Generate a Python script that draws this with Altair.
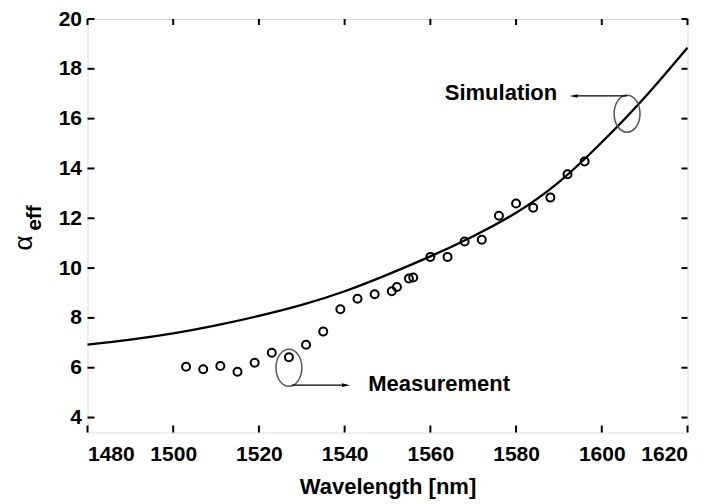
import altair as alt
import pandas as pd

# Simulation curve
sim_wavelength = [1480, 1490, 1500, 1510, 1520, 1530, 1540, 1550, 1560, 1570, 1580, 1590, 1600, 1610, 1620]
sim_alpha = [6.93, 7.13, 7.38, 7.70, 8.08, 8.52, 9.07, 9.74, 10.47, 11.28, 12.22, 13.45, 15.05, 16.85, 18.85]

# Measurement points
meas_wavelength = [1503, 1507, 1511, 1515, 1519, 1523, 1527, 1531, 1535, 1539, 1543, 1547, 1551, 1552.2,
                   1555, 1556, 1560, 1564, 1568, 1572, 1576, 1580, 1584, 1588, 1592, 1596]
meas_alpha = [6.04, 5.94, 6.07, 5.84, 6.2, 6.6, 6.42, 6.92, 7.45, 8.35, 8.77, 8.95, 9.07, 9.24,
              9.58, 9.62, 10.45, 10.45, 11.07, 11.14, 12.1, 12.59, 12.42, 12.83, 13.77, 14.28]

x_ticks = [1480, 1500, 1520, 1540, 1560, 1580, 1600, 1620]
y_ticks = [4, 6, 8, 10, 12, 14, 16, 18, 20]

# Annotations
ellipse_x = [1527.0, 1605.9]
ellipse_y = [6.0, 16.2]
arrow_x = [1527.7, 1605.9]
arrow_x2 = [1540.3, 1593.4]
arrow_y = [5.30, 16.91]
label_text = ["Measurement", "Simulation"]
label_x = [1545.5, 1589.6]
label_y = [5.34, 17.02]

FONT = "Liberation Sans"
W, H = 600, 413.5
TOP = 11

sim_df = pd.DataFrame({"wl": sim_wavelength, "a": sim_alpha})
meas_df = pd.DataFrame({"wl": meas_wavelength, "a": meas_alpha})
xt_df = pd.DataFrame({"v": x_ticks})
yt_df = pd.DataFrame({"v": y_ticks})

xs = alt.Scale(domain=[1480, 1620], nice=False, zero=False)
ys = alt.Scale(domain=[3.4, 20], nice=False, zero=False)

x_axis = alt.Axis(values=x_ticks, ticks=False, domain=False, grid=False, labelFont=FONT,
                  labelFontSize=21, labelFontWeight="bold", labelColor="black", labelPadding=11,
                  title="Wavelength [nm]", titleFont=FONT, titleFontSize=22, titleFontWeight="bold",
                  titleColor="black", titlePadding=12, format="d")
y_axis = alt.Axis(values=y_ticks, ticks=False, domain=False, grid=False, labelFont=FONT,
                  labelFontSize=21, labelFontWeight="bold", labelColor="black", labelPadding=6,
                  title=None, format="d")

line = alt.Chart(sim_df).mark_line(color="black", strokeWidth=2.3, interpolate="natural").encode(
    x=alt.X("wl:Q", scale=xs, axis=x_axis),
    y=alt.Y("a:Q", scale=ys, axis=y_axis),
)

points = alt.Chart(meas_df).mark_point(shape="circle", filled=False, color="black", size=64,
                                       strokeWidth=2, opacity=1).encode(
    x=alt.X("wl:Q", scale=xs),
    y=alt.Y("a:Q", scale=ys),
)

ell_df = pd.DataFrame({"x": ellipse_x, "y": ellipse_y})
ellipses = alt.Chart(ell_df).mark_point(
    shape="M-0.7,0A0.7,1,0,1,0,0.7,0A0.7,1,0,1,0,-0.7,0Z",
    filled=False, stroke="#555555", strokeWidth=1.5, size=1369, opacity=1,
).encode(x=alt.X("x:Q", scale=xs), y=alt.Y("y:Q", scale=ys))

arr_df = pd.DataFrame({"x": arrow_x, "x2": arrow_x2, "y": arrow_y})
arrows = alt.Chart(arr_df).mark_rule(color="black", strokeWidth=1.3).encode(
    x=alt.X("x:Q", scale=xs), x2="x2:Q", y=alt.Y("y:Q", scale=ys)
)
head_r = alt.Chart(pd.DataFrame({"x": [arrow_x2[0]], "y": [arrow_y[0]]})).mark_point(
    shape="M1,0L-1,-0.45L-1,0.45Z", filled=True, color="black", size=64, opacity=1, strokeWidth=0
).encode(x=alt.X("x:Q", scale=xs), y=alt.Y("y:Q", scale=ys))
head_l = alt.Chart(pd.DataFrame({"x": [arrow_x2[1]], "y": [arrow_y[1]]})).mark_point(
    shape="M-1,0L1,-0.45L1,0.45Z", filled=True, color="black", size=64, opacity=1, strokeWidth=0
).encode(x=alt.X("x:Q", scale=xs), y=alt.Y("y:Q", scale=ys))

lab_df = pd.DataFrame({"t": label_text, "x": label_x, "y": label_y})
lab_m = alt.Chart(lab_df.iloc[[0]]).mark_text(align="left", baseline="middle", font=FONT,
                                              fontSize=22, fontWeight="bold", color="black").encode(
    x=alt.X("x:Q", scale=xs), y=alt.Y("y:Q", scale=ys), text="t:N")
lab_s = alt.Chart(lab_df.iloc[[1]]).mark_text(align="right", baseline="middle", font=FONT,
                                              fontSize=22, fontWeight="bold", color="black").encode(
    x=alt.X("x:Q", scale=xs), y=alt.Y("y:Q", scale=ys), text="t:N")

# inward ticks on all four sides
tick_b = alt.Chart(xt_df).mark_rule(color="black", strokeWidth=2).encode(
    x=alt.X("v:Q", scale=xs), y=alt.value(H), y2=alt.value(H - 7))
tick_t = alt.Chart(xt_df).mark_rule(color="black", strokeWidth=2).encode(
    x=alt.X("v:Q", scale=xs), y=alt.value(0), y2=alt.value(6))
tick_l = alt.Chart(yt_df).mark_rule(color="black", strokeWidth=2).encode(
    y=alt.Y("v:Q", scale=ys), x=alt.value(0), x2=alt.value(7))
tick_r = alt.Chart(yt_df).mark_rule(color="black", strokeWidth=2).encode(
    y=alt.Y("v:Q", scale=ys), x=alt.value(W), x2=alt.value(W - 6))

# y axis title alpha_eff
alpha_t = alt.Chart(pd.DataFrame({"t": ["α"]})).mark_text(
    angle=270, align="center", baseline="middle", font=FONT, fontSize=26, color="black").encode(
    x=alt.value(-64), y=alt.value(224), text="t:N")
eff_t = alt.Chart(pd.DataFrame({"t": ["eff"]})).mark_text(
    angle=270, align="center", baseline="middle", font=FONT, fontSize=21, fontWeight="bold",
    color="black").encode(x=alt.value(-53), y=alt.value(199), text="t:N")

chart = alt.layer(line, points, ellipses, arrows, head_r, head_l, lab_m, lab_s,
                  tick_b, tick_t, tick_l, tick_r, alpha_t, eff_t).properties(
    width=W, height=H,
    autosize=alt.AutoSizeParams(type="none"),
    padding={"left": 79.5, "top": TOP, "right": 10, "bottom": 70},
).configure_view(stroke="black", strokeWidth=2).configure(background="white")

chart.save("out.html", embed_options={"renderer": "svg", "actions": False})
